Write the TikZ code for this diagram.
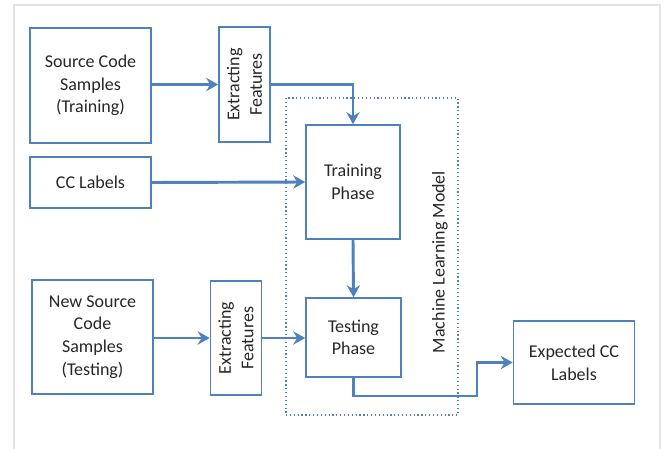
\documentclass[tikz,border=0pt]{standalone}
\usepackage{fontspec}
\setmainfont{Carlito}
\usetikzlibrary{arrows.meta}
\definecolor{boxblue}{HTML}{4F81BD}
\definecolor{framegray}{HTML}{E3E3E3}
\tikzset{
    block/.style={draw=boxblue, line width=1.2pt, align=center, text=black!85,
        font=\fontsize{13.5}{17}\selectfont, inner sep=2pt},
    flow/.style={draw=boxblue, line width=2.2pt, -{Stealth[length=9pt,width=10pt,inset=3pt]}},
}
\begin{document}
\begin{tikzpicture}[x=0.75pt,y=-0.75pt]
        \useasboundingbox (0,0) rectangle (665,449);
        \draw[framegray, line width=1.5pt] (14,449) -- (14,5) -- (660,5) -- (660,449);
        % machine learning model
        \node[draw=boxblue, line width=0.9pt, dotted, minimum width=129pt, minimum height=237.75pt] (ml) at (372,256.5) {};
        \node[rotate=90, text=black!85, font=\fontsize{13.5}{17}\selectfont] (mllabel) at (440,262) {Machine Learning Model};
        % boxes
        \node[block, minimum width=90.75pt, minimum height=86.25pt] (train) at (90.5,85.5) {Source Code\\Samples\\(Training)};
        \node[block, rotate=90, minimum width=86.25pt, minimum height=38.25pt] (ex1) at (244.5,84.5) {Extracting\\Features};
        \node[block, minimum width=90.75pt, minimum height=38.25pt] (cc) at (90.5,182.5) {CC Labels};
        \node[block, minimum width=70.5pt, minimum height=85.5pt] (trph) at (353,182) {Training\\Phase};
        \node[block, minimum width=71.25pt, minimum height=59.25pt] (teph) at (353.5,337.5) {Testing\\Phase};
        \node[block, minimum width=90.75pt, minimum height=85.5pt] (test) at (92.5,337) {New Source\\Code\\Samples\\(Testing)};
        \node[block, rotate=90, minimum width=85.5pt, minimum height=38.25pt] (ex2) at (236,338) {Extracting\\Features};
        \node[block, minimum width=90.75pt, minimum height=62.25pt] (out) at (574,362.5) {Expected CC\\Labels};
        \coordinate (turn) at (477,396);
        % arrows
        \draw[flow] (train.east |- ex1.center) -- (ex1.north);
        \draw[flow] (ex1.south) -| (trph.north);
        \draw[flow] (cc.east) -- (trph.west);
        \draw[flow] (trph.south) -- (teph.north);
        \draw[flow] (test.east |- ex2.center) -- (ex2.north);
        \draw[flow] (ex2.south) -- (teph.west |- ex2.center);
        \draw[flow] (teph.south) |- (turn) |- (out.west);
    \end{tikzpicture}
\end{document}
